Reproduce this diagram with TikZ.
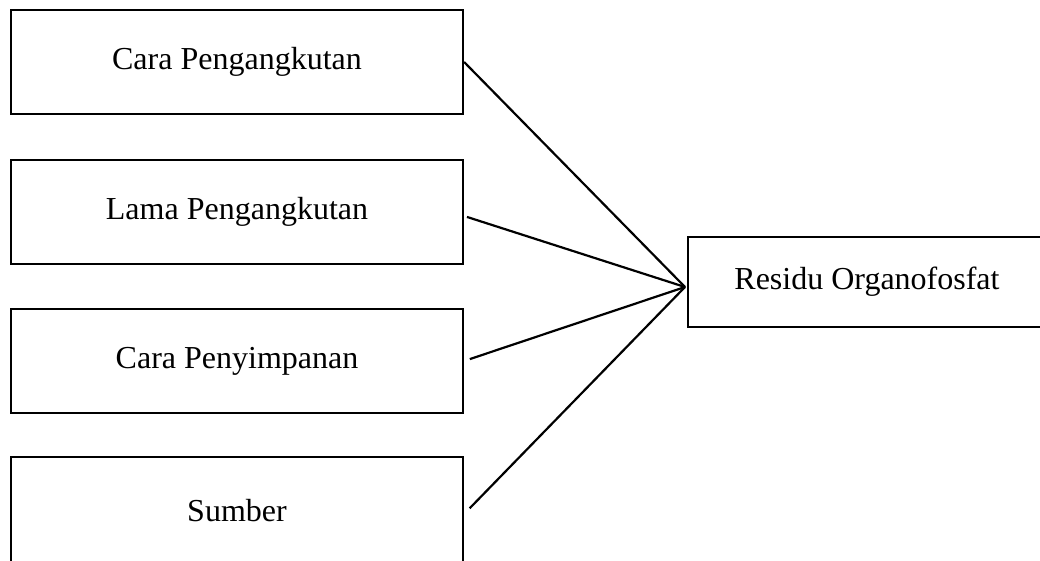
\documentclass[tikz,border=0pt]{standalone}
\usepackage{fontspec}
\setmainfont{Liberation Serif}

\newcommand*{\boxw}{452}
\newcommand*{\boxh}{104}
\newcommand*{\leftx}{237}

\begin{document}
\begin{tikzpicture}
[
	x=1pt,y=-1pt,
	factor/.style={draw,line width=2.2pt,inner sep=0pt,minimum width=\boxw pt,minimum height=\boxh pt,font=\fontsize{32}{38}\selectfont},
	result/.style={draw,line width=2.2pt,inner sep=0pt,minimum width=358pt,minimum height=90pt,font=\fontsize{32}{38}\selectfont},
	link/.style={line width=2.2pt}
]

	\useasboundingbox (0,0) rectangle (1040,560);

	% boxes
	\node[factor] at (\leftx,62) (cara) {Cara Pengangkutan};
	\node[factor] at (\leftx,212) (lama) {Lama Pengangkutan};
	\node[factor] at (\leftx,361) (simpan) {Cara Penyimpanan};
	\node[factor,minimum height=108pt] at (\leftx,511) (sumber) {Sumber};
	\node[result] at (867,282) (residu) {Residu Organofosfat};

	% lines
	\coordinate (hub) at (685,287);
	\draw[link] (cara.east) -- (hub);
	\draw[link,shorten <=3pt] ([yshift=-4pt]lama.east) -- (hub);
	\draw[link,shorten <=6pt] (simpan.east) -- (hub);
	\draw[link,shorten <=8pt] ([yshift=-3pt]sumber.east) -- (hub);

\end{tikzpicture}
\end{document}
